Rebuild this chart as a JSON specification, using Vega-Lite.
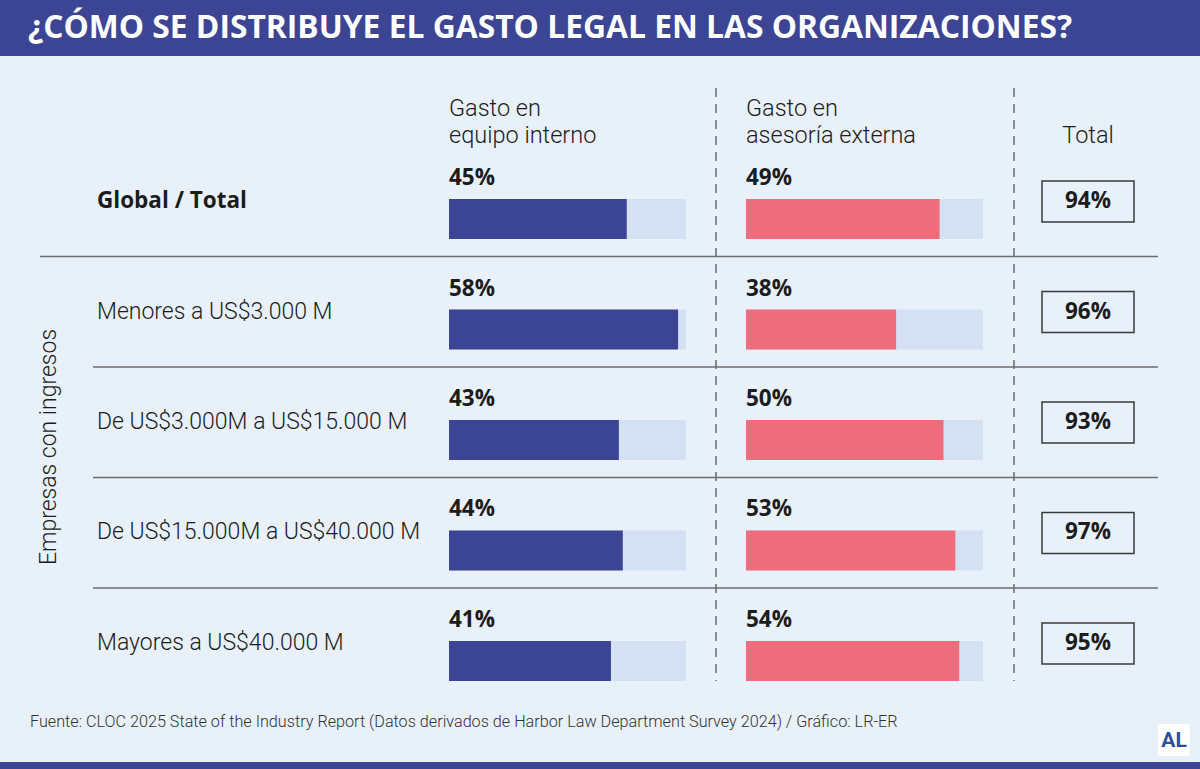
{
  "$schema": "https://vega.github.io/schema/vega-lite/v6.json",
  "width": 1200,
  "height": 769,
  "autosize": {"type": "fit", "contains": "padding"},
  "padding": 0,
  "background": "#e8f0fa",
  "config": {"view": {"stroke": null}, "text": {"font": "Roboto", "color": "#1c1c1c"}},
  "datasets": {
    "filas": [
      {"grupo": "Global / Total", "interno": 0.45, "externo": 0.49, "total": 0.94},
      {"grupo": "Menores a US$3.000 M", "interno": 0.58, "externo": 0.38, "total": 0.96},
      {"grupo": "De US$3.000M a US$15.000 M", "interno": 0.43, "externo": 0.50, "total": 0.93},
      {"grupo": "De US$15.000M a US$40.000 M", "interno": 0.44, "externo": 0.53, "total": 0.97},
      {"grupo": "Mayores a US$40.000 M", "interno": 0.41, "externo": 0.54, "total": 0.95}
    ]
  },
  "data": {"name": "filas"},
  "resolve": {"scale": {"x": "independent", "y": "independent"}},
  "layer": [
    {
      "data": {"values": [{"k": 1}]},
      "mark": {"type": "rect", "color": "#3c4494"},
      "encoding": {
        "x": {"datum": 0, "type": "quantitative", "scale": {"domain": [0, 1], "range": [0, 1200], "nice": false}, "axis": null},
        "x2": {"datum": 1},
        "y": {"datum": 0, "type": "quantitative", "scale": {"domain": [0, 1], "range": [0, 56], "nice": false}, "axis": null},
        "y2": {"datum": 1}
      }
    },
    {
      "data": {"values": [{"k": 1}]},
      "mark": {"type": "rect", "color": "#3c4494"},
      "encoding": {
        "x": {"datum": 0, "type": "quantitative", "scale": {"domain": [0, 1], "range": [0, 1200], "nice": false}, "axis": null},
        "x2": {"datum": 1},
        "y": {"datum": 0, "type": "quantitative", "scale": {"domain": [0, 1], "range": [762, 769], "nice": false}, "axis": null},
        "y2": {"datum": 1}
      }
    },
    {
      "data": {"values": [{"t": "¿CÓMO SE DISTRIBUYE EL GASTO LEGAL EN LAS ORGANIZACIONES?"}]},
      "mark": {"type": "text", "align": "left", "baseline": "middle", "fontSize": 31.8, "fontWeight": "bold", "font": "Open Sans", "color": "#ffffff"},
      "encoding": {
        "text": {"field": "t"},
        "x": {"datum": 0, "type": "quantitative", "scale": {"domain": [0, 1], "range": [28, 1200], "nice": false}, "axis": null},
        "y": {"datum": 0, "type": "quantitative", "scale": {"domain": [0, 1], "range": [28, 56], "nice": false}, "axis": null}
      }
    },
    {
      "data": {"values": [{"t": ["Gasto en", "equipo interno"]}]},
      "mark": {"type": "text", "align": "left", "baseline": "alphabetic", "fontSize": 23.5, "fontWeight": 300, "lineHeight": 27},
      "encoding": {
        "text": {"field": "t"},
        "x": {"datum": 0, "type": "quantitative", "scale": {"domain": [0, 0.6], "range": [449, 686], "nice": false}, "axis": null},
        "y": {"datum": 0, "type": "quantitative", "scale": {"domain": [0, 1], "range": [116, 769], "nice": false}, "axis": null}
      }
    },
    {
      "data": {"values": [{"t": ["Gasto en", "asesoría externa"]}]},
      "mark": {"type": "text", "align": "left", "baseline": "alphabetic", "fontSize": 23.5, "fontWeight": 300, "lineHeight": 27},
      "encoding": {
        "text": {"field": "t"},
        "x": {"datum": 0, "type": "quantitative", "scale": {"domain": [0, 0.6], "range": [746, 983], "nice": false}, "axis": null},
        "y": {"datum": 0, "type": "quantitative", "scale": {"domain": [0, 1], "range": [116, 769], "nice": false}, "axis": null}
      }
    },
    {
      "data": {"values": [{"t": "Total"}]},
      "mark": {"type": "text", "align": "center", "baseline": "alphabetic", "fontSize": 23.5, "fontWeight": 300},
      "encoding": {
        "text": {"field": "t"},
        "x": {"datum": 0.5, "type": "quantitative", "scale": {"domain": [0, 1], "range": [1042, 1134], "nice": false}, "axis": null},
        "y": {"datum": 0, "type": "quantitative", "scale": {"domain": [0, 1], "range": [143, 769], "nice": false}, "axis": null}
      }
    },
    {
      "data": {"values": [{"col": "interno"}, {"col": "externo"}]},
      "mark": {"type": "rule", "color": "#555555", "strokeWidth": 1.3, "strokeDash": [9, 7]},
      "encoding": {
        "x": {"field": "col", "type": "nominal", "scale": {"type": "point", "domain": ["interno", "externo"], "range": [716, 1014], "padding": 0}, "axis": null},
        "y": {"datum": 0, "type": "quantitative", "scale": {"domain": [0, 1], "range": [88, 681], "nice": false}, "axis": null},
        "y2": {"datum": 1}
      }
    },
    {
      "transform": [{"filter": "datum.grupo !== 'Mayores a US$40.000 M'"}],
      "mark": {"type": "rule", "color": "#6e6e6e", "strokeWidth": 1.4},
      "encoding": {
        "x": {"datum": 0, "type": "quantitative", "scale": {"domain": [0, 1], "range": [93, 1158], "nice": false}, "axis": null},
        "x2": {"datum": 1},
        "y": {"field": "grupo", "type": "nominal", "scale": {"type": "point", "domain": ["Global / Total", "Menores a US$3.000 M", "De US$3.000M a US$15.000 M", "De US$15.000M a US$40.000 M"], "range": [256.5, 588], "padding": 0}, "axis": null}
      }
    },
    {
      "transform": [{"filter": "datum.grupo === 'Global / Total'"}],
      "mark": {"type": "rule", "color": "#6e6e6e", "strokeWidth": 1.4},
      "encoding": {
        "x": {"datum": 0, "type": "quantitative", "scale": {"domain": [0, 1], "range": [40, 93], "nice": false}, "axis": null},
        "x2": {"datum": 1},
        "y": {"field": "grupo", "type": "nominal", "scale": {"type": "point", "domain": ["Global / Total", "Menores a US$3.000 M", "De US$3.000M a US$15.000 M", "De US$15.000M a US$40.000 M"], "range": [256.5, 588], "padding": 0}, "axis": null}
      }
    },
    {
      "mark": {"type": "bar", "color": "#d3e1f3"},
      "encoding": {
        "x": {"datum": 0, "type": "quantitative", "scale": {"domain": [0, 0.6], "range": [449, 686], "nice": false}, "axis": null},
        "x2": {"datum": 0.6},
        "y": {"field": "grupo", "type": "nominal", "sort": null, "scale": {"type": "band", "domain": ["Global / Total", "Menores a US$3.000 M", "De US$3.000M a US$15.000 M", "De US$15.000M a US$40.000 M", "Mayores a US$40.000 M"], "range": [199, 681], "paddingInner": 0.638, "paddingOuter": 0}, "axis": null}
      }
    },
    {
      "mark": {"type": "bar", "color": "#3c4494"},
      "encoding": {
        "x": {"field": "interno", "type": "quantitative", "scale": {"domain": [0, 0.6], "range": [449, 686], "nice": false}, "axis": null},
        "x2": {"datum": 0},
        "y": {"field": "grupo", "type": "nominal", "sort": null, "scale": {"type": "band", "domain": ["Global / Total", "Menores a US$3.000 M", "De US$3.000M a US$15.000 M", "De US$15.000M a US$40.000 M", "Mayores a US$40.000 M"], "range": [199, 681], "paddingInner": 0.638, "paddingOuter": 0}, "axis": null}
      }
    },
    {
      "mark": {"type": "text", "align": "left", "baseline": "middle", "fontSize": 22.5, "fontWeight": "bold", "font": "Open Sans", "dy": -41},
      "encoding": {
        "text": {"field": "interno", "type": "quantitative", "format": ".0%"},
        "x": {"datum": 0, "type": "quantitative", "scale": {"domain": [0, 0.6], "range": [449, 686], "nice": false}, "axis": null},
        "y": {"field": "grupo", "type": "nominal", "sort": null, "scale": {"type": "band", "domain": ["Global / Total", "Menores a US$3.000 M", "De US$3.000M a US$15.000 M", "De US$15.000M a US$40.000 M", "Mayores a US$40.000 M"], "range": [199, 681], "paddingInner": 0.638, "paddingOuter": 0}, "axis": null}
      }
    },
    {
      "mark": {"type": "bar", "color": "#d3e1f3"},
      "encoding": {
        "x": {"datum": 0, "type": "quantitative", "scale": {"domain": [0, 0.6], "range": [746, 983], "nice": false}, "axis": null},
        "x2": {"datum": 0.6},
        "y": {"field": "grupo", "type": "nominal", "sort": null, "scale": {"type": "band", "domain": ["Global / Total", "Menores a US$3.000 M", "De US$3.000M a US$15.000 M", "De US$15.000M a US$40.000 M", "Mayores a US$40.000 M"], "range": [199, 681], "paddingInner": 0.638, "paddingOuter": 0}, "axis": null}
      }
    },
    {
      "mark": {"type": "bar", "color": "#ef6c7d"},
      "encoding": {
        "x": {"field": "externo", "type": "quantitative", "scale": {"domain": [0, 0.6], "range": [746, 983], "nice": false}, "axis": null},
        "x2": {"datum": 0},
        "y": {"field": "grupo", "type": "nominal", "sort": null, "scale": {"type": "band", "domain": ["Global / Total", "Menores a US$3.000 M", "De US$3.000M a US$15.000 M", "De US$15.000M a US$40.000 M", "Mayores a US$40.000 M"], "range": [199, 681], "paddingInner": 0.638, "paddingOuter": 0}, "axis": null}
      }
    },
    {
      "mark": {"type": "text", "align": "left", "baseline": "middle", "fontSize": 22.5, "fontWeight": "bold", "font": "Open Sans", "dy": -41},
      "encoding": {
        "text": {"field": "externo", "type": "quantitative", "format": ".0%"},
        "x": {"datum": 0, "type": "quantitative", "scale": {"domain": [0, 0.6], "range": [746, 983], "nice": false}, "axis": null},
        "y": {"field": "grupo", "type": "nominal", "sort": null, "scale": {"type": "band", "domain": ["Global / Total", "Menores a US$3.000 M", "De US$3.000M a US$15.000 M", "De US$15.000M a US$40.000 M", "Mayores a US$40.000 M"], "range": [199, 681], "paddingInner": 0.638, "paddingOuter": 0}, "axis": null}
      }
    },
    {
      "mark": {"type": "rect", "fill": "transparent", "stroke": "#3a3a3a", "strokeWidth": 1.5},
      "encoding": {
        "x": {"datum": 0, "type": "quantitative", "scale": {"domain": [0, 1], "range": [1042, 1134], "nice": false}, "axis": null},
        "x2": {"datum": 1},
        "y": {"field": "grupo", "type": "nominal", "sort": null, "scale": {"type": "band", "domain": ["Global / Total", "Menores a US$3.000 M", "De US$3.000M a US$15.000 M", "De US$15.000M a US$40.000 M", "Mayores a US$40.000 M"], "range": [181, 664], "paddingInner": 0.629, "paddingOuter": 0}, "axis": null}
      }
    },
    {
      "mark": {"type": "text", "align": "center", "baseline": "middle", "fontSize": 22.5, "fontWeight": "bold", "font": "Open Sans", "dy": -18},
      "encoding": {
        "text": {"field": "total", "type": "quantitative", "format": ".0%"},
        "x": {"datum": 0.5, "type": "quantitative", "scale": {"domain": [0, 1], "range": [1042, 1134], "nice": false}, "axis": null},
        "y": {"field": "grupo", "type": "nominal", "sort": null, "scale": {"type": "band", "domain": ["Global / Total", "Menores a US$3.000 M", "De US$3.000M a US$15.000 M", "De US$15.000M a US$40.000 M", "Mayores a US$40.000 M"], "range": [199, 681], "paddingInner": 0.638, "paddingOuter": 0}, "axis": null}
      }
    },
    {
      "transform": [{"filter": "datum.grupo === 'Global / Total'"}],
      "mark": {"type": "text", "align": "left", "baseline": "middle", "fontSize": 22.5, "fontWeight": "bold", "font": "Open Sans", "dy": -18},
      "encoding": {
        "text": {"field": "grupo"},
        "x": {"datum": 0, "type": "quantitative", "scale": {"domain": [0, 1], "range": [97, 440], "nice": false}, "axis": null},
        "y": {"field": "grupo", "type": "nominal", "sort": null, "scale": {"type": "band", "domain": ["Global / Total", "Menores a US$3.000 M", "De US$3.000M a US$15.000 M", "De US$15.000M a US$40.000 M", "Mayores a US$40.000 M"], "range": [199, 681], "paddingInner": 0.638, "paddingOuter": 0}, "axis": null}
      }
    },
    {
      "transform": [{"filter": "datum.grupo !== 'Global / Total'"}],
      "mark": {"type": "text", "align": "left", "baseline": "middle", "fontSize": 23, "fontWeight": 300, "dy": -18},
      "encoding": {
        "text": {"field": "grupo"},
        "x": {"datum": 0, "type": "quantitative", "scale": {"domain": [0, 1], "range": [97, 440], "nice": false}, "axis": null},
        "y": {"field": "grupo", "type": "nominal", "sort": null, "scale": {"type": "band", "domain": ["Global / Total", "Menores a US$3.000 M", "De US$3.000M a US$15.000 M", "De US$15.000M a US$40.000 M", "Mayores a US$40.000 M"], "range": [199, 681], "paddingInner": 0.638, "paddingOuter": 0}, "axis": null}
      }
    },
    {
      "data": {"values": [{"t": "Empresas con ingresos"}]},
      "mark": {"type": "text", "align": "center", "baseline": "middle", "fontSize": 23, "fontWeight": 300, "angle": 270},
      "encoding": {
        "text": {"field": "t"},
        "x": {"datum": 0, "type": "quantitative", "scale": {"domain": [0, 1], "range": [49, 100], "nice": false}, "axis": null},
        "y": {"datum": 0, "type": "quantitative", "scale": {"domain": [0, 1], "range": [447, 769], "nice": false}, "axis": null}
      }
    },
    {
      "data": {"values": [{"t": "Fuente: CLOC 2025 State of the Industry Report (Datos derivados de Harbor Law Department Survey 2024) / Gráfico: LR-ER"}]},
      "mark": {"type": "text", "align": "left", "baseline": "middle", "fontSize": 16.2, "fontWeight": 300, "color": "#333333"},
      "encoding": {
        "text": {"field": "t"},
        "x": {"datum": 0, "type": "quantitative", "scale": {"domain": [0, 1], "range": [30, 1200], "nice": false}, "axis": null},
        "y": {"datum": 0, "type": "quantitative", "scale": {"domain": [0, 1], "range": [722, 769], "nice": false}, "axis": null}
      }
    },
    {
      "data": {"values": [{"k": 1}]},
      "mark": {"type": "rect", "color": "#ffffff"},
      "encoding": {
        "x": {"datum": 0, "type": "quantitative", "scale": {"domain": [0, 1], "range": [1158, 1190], "nice": false}, "axis": null},
        "x2": {"datum": 1},
        "y": {"datum": 0, "type": "quantitative", "scale": {"domain": [0, 1], "range": [724, 756], "nice": false}, "axis": null},
        "y2": {"datum": 1}
      }
    },
    {
      "data": {"values": [{"t": "AL"}]},
      "mark": {"type": "text", "align": "center", "baseline": "middle", "fontSize": 21, "fontWeight": "bold", "color": "#2b4f9c"},
      "encoding": {
        "text": {"field": "t"},
        "x": {"datum": 0.5, "type": "quantitative", "scale": {"domain": [0, 1], "range": [1158, 1190], "nice": false}, "axis": null},
        "y": {"datum": 0, "type": "quantitative", "scale": {"domain": [0, 1], "range": [741, 769], "nice": false}, "axis": null}
      }
    }
  ]
}
